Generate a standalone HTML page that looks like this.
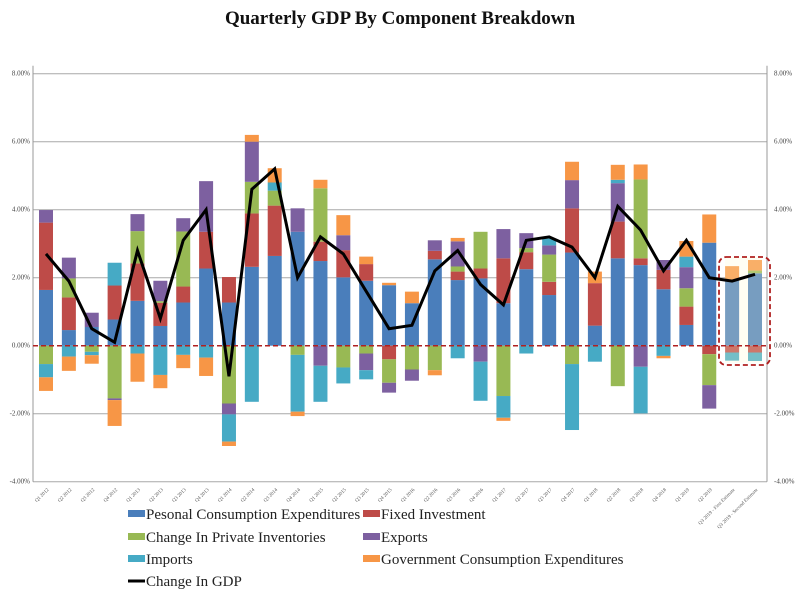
<!DOCTYPE html>
<html><head><meta charset="utf-8"><style>
body{margin:0;background:#fff;width:800px;height:597px;overflow:hidden}
svg{display:block}
</style></head><body>
<svg id="chart" width="800" height="597" xmlns="http://www.w3.org/2000/svg">
<rect x="0" y="0" width="800" height="597" fill="#fff"/>
<text x="400" y="24" text-anchor="middle" font-family="Liberation Serif, serif" font-weight="bold" font-size="19" fill="#111">Quarterly GDP By Component Breakdown</text>
<g id="grid"></g>
<g id="bars"></g>
<g id="xlabels"></g>
<g id="legend"></g>
</svg>
<script>
const categories = ["Q1 2012","Q2 2012","Q3 2012","Q4 2012","Q1 2013","Q2 2013","Q3 2013","Q4 2013","Q1 2014","Q2 2014","Q3 2014","Q4 2014","Q1 2015","Q2 2015","Q3 2015","Q4 2015","Q1 2016","Q2 2016","Q3 2016","Q4 2016","Q1 2017","Q2 2017","Q3 2017","Q4 2017","Q1 2018","Q2 2018","Q3 2018","Q4 2018","Q1 2019","Q2 2019","Q3 2019 - First Estimate","Q3 2019 - Second Estimate"];
const pce = [1.64,0.46,0.55,0.77,1.32,0.58,1.27,2.27,1.27,2.32,2.64,3.35,2.49,2.01,1.91,1.78,1.25,2.54,1.93,1.98,1.25,2.25,1.49,2.74,0.59,2.57,2.37,1.66,0.61,3.03,1.93,2.13];
const fixedInv = [1.98,0.96,0,1.0,1.1,0.68,0.47,1.08,0.75,1.57,1.48,0,0.57,0.8,0.49,-0.4,0,0.25,0.25,0.29,1.32,0.5,0.39,1.3,1.25,1.08,0.2,0.57,0.54,-0.25,-0.2,-0.2];
const inventories = [-0.54,0.56,-0.18,-1.55,0.95,0.05,1.62,0,-1.7,0.93,0.44,-0.27,1.57,-0.64,-0.23,-0.69,-0.7,-0.72,0.15,1.08,-1.48,0.12,0.8,-0.54,0,-1.19,2.32,0,0.54,-0.91,0,0.08];
const exportsV = [0.37,0.61,0.42,-0.05,0.5,0.6,0.39,1.49,-0.32,1.18,0,0.69,-0.59,0.44,-0.49,-0.29,-0.33,0.31,0.74,-0.47,0.86,0.44,0.27,0.83,0,1.13,-0.62,0.29,0.62,-0.69,0,0];
const imports = [-0.39,-0.32,-0.1,0.67,-0.23,-0.86,-0.27,-0.35,-0.8,-1.65,0.24,-1.67,-1.06,-0.47,-0.27,0,0,0,-0.37,-1.15,-0.64,-0.23,0.2,-1.94,-0.47,0.1,-1.37,-0.3,0.31,0,-0.24,-0.25];
const govt = [-0.4,-0.42,-0.25,-0.76,-0.83,-0.39,-0.39,-0.54,-0.13,0.2,0.42,-0.13,0.25,0.59,0.22,0.07,0.34,-0.15,0.1,0,-0.09,0,0,0.54,0.34,0.44,0.44,-0.07,0.46,0.83,0.41,0.31];
const gdp = [2.7,1.9,0.5,0.1,2.8,0.8,3.1,4.0,-0.9,4.6,5.2,2.0,3.2,2.7,1.6,0.5,0.6,2.2,2.8,1.8,1.2,3.1,3.2,2.9,2.0,4.1,3.4,2.2,3.1,2.0,1.9,2.1];
const yTicks = [8,6,4,2,0,-2,-4];
const seriesNames = ["Pesonal Consumption Expenditures","Fixed Investment","Change In Private Inventories","Exports","Imports","Government Consumption Expenditures"];

const NS="http://www.w3.org/2000/svg";
const colors=["#4a7ebb","#be4b48","#98b954","#7d60a0","#46aac5","#f79646"];
const series=[pce,fixedInv,inventories,exportsV,imports,govt];
const plotL=33, plotR=767, zeroY=345.7, pxPer=34;
const y=v=>zeroY-v*pxPer;
const x0=46, step=(755-46)/31;
const x=i=>x0+i*step;
const bw=14;
function mk(tag,attrs,parent){const e=document.createElementNS(NS,tag);for(const k in attrs)e.setAttribute(k,attrs[k]);parent.appendChild(e);return e;}
const grid=document.getElementById('grid'), bars=document.getElementById('bars'), xl=document.getElementById('xlabels'), lg=document.getElementById('legend');
yTicks.forEach(t=>{
  if(t!==0){const l=mk('line',{x1:plotL,x2:plotR,y1:y(t),y2:y(t),stroke:'#a8a8a8','stroke-width':1},grid);
  
  }
  const s=t.toFixed(2)+'%';
  const a=mk('text',{x:plotL-3,y:y(t)+2,'text-anchor':'end','font-family':'Liberation Serif, serif','font-size':7,fill:'#444'},grid);a.textContent=s;
  
  
  const b=mk('text',{x:plotR+7,y:y(t)+2,'font-family':'Liberation Serif, serif','font-size':7,fill:'#444'},grid);b.textContent=s;
  
  
});
let ax=mk('line',{x1:plotL,x2:plotL,y1:y(8)-8,y2:y(-4),stroke:'#999'},grid);


ax=mk('line',{x1:plotR,x2:plotR,y1:y(8)-8,y2:y(-4),stroke:'#999'},grid);


categories.forEach((c,i)=>{
  let pos=0,neg=0;
  series.forEach((s,k)=>{
    const v=s[i]; if(!v) return;
    let top,h;
    if(v>0){top=y(pos+v);h=v*pxPer;pos+=v;}else{top=y(neg);h=-v*pxPer;neg+=v;}
    const r=mk('rect',{x:x(i)-bw/2,y:top,width:bw,height:h,fill:colors[k]},bars);
    
    
  });
  const t=mk('text',{x:x(i)+3,y:490,'text-anchor':'end','font-family':'Liberation Serif, serif','font-size':5,fill:'#555',transform:`rotate(-45 ${x(i)+3} 490)`},xl);
  t.textContent=c;
  
  
});
let ov=mk('rect',{x:x(30)-bw/2,y:y(2.6),width:x(31)-x(30)+bw,height:y(-0.5)-y(2.6),fill:'#fffbd0',opacity:0.25},bars);


let zl=mk('line',{x1:plotL,x2:plotR,y1:zeroY,y2:zeroY,stroke:'#b02020','stroke-width':1.5,'stroke-dasharray':'5,3'},bars);


let box=mk('rect',{x:719,y:257,width:51,height:108,rx:7,fill:'none',stroke:'#b02020','stroke-width':1.8,'stroke-dasharray':'5,3'},bars);


const pts=gdp.map((v,i)=>x(i)+','+y(v)).join(' ');
const pl=mk('polyline',{points:pts,fill:'none',stroke:'#000','stroke-width':3,'stroke-linejoin':'miter'},bars);


const legPos=[[128,514],[363,514],[128,537],[363,537],[128,559],[363,559]];
seriesNames.forEach((n,k)=>{
  const [lx,ly]=legPos[k];
  const sw=mk('rect',{x:lx,y:ly-4,width:17,height:7,fill:colors[k]},lg);
  
  
  const t=mk('text',{x:lx+18,y:ly+5,'font-family':'Liberation Serif, serif','font-size':15,fill:'#222'},lg);
  t.textContent=n;
  
  
});
const gl=mk('line',{x1:128,x2:145,y1:581,y2:581,stroke:'#000','stroke-width':3},lg);


const gt=mk('text',{x:146,y:586,'font-family':'Liberation Serif, serif','font-size':15,fill:'#222'},lg);
gt.textContent='Change In GDP';


</script>
</body></html>
